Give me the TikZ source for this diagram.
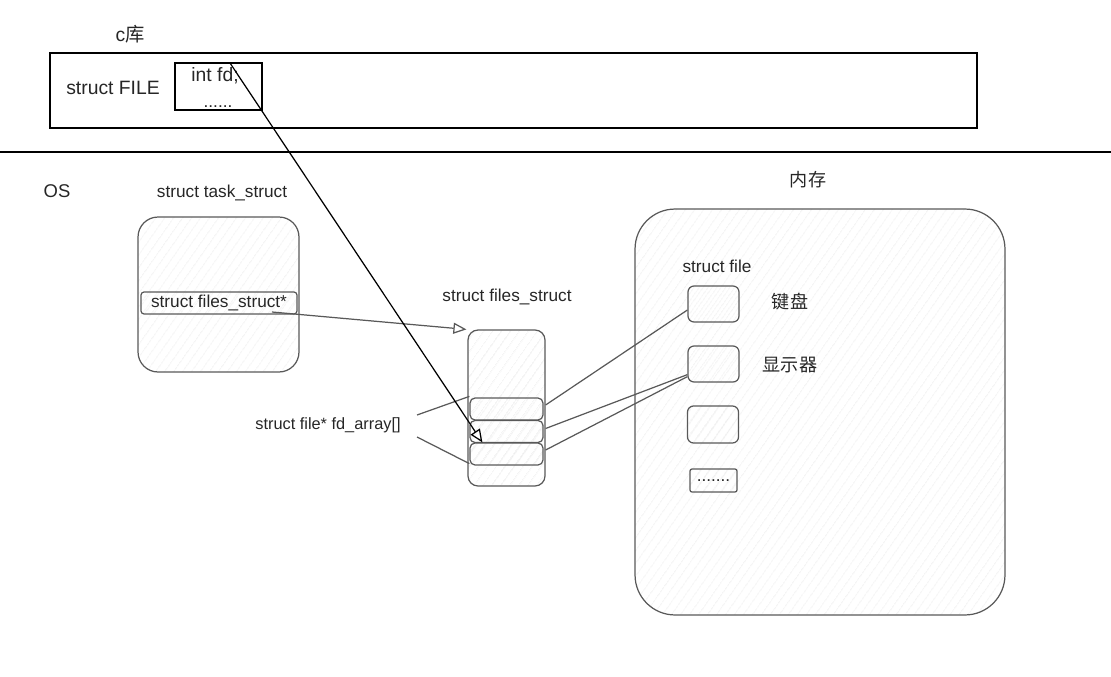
\documentclass[tikz,border=0pt]{standalone}
\usepackage{fontspec}
\setmainfont{Liberation Sans}
\newfontfamily\cjk{Noto Sans CJK SC}
\usepackage{tikz}
\usetikzlibrary{arrows.meta,positioning,patterns.meta}

\begin{document}
\begin{tikzpicture}[x=0.02cm,y=-0.02cm,>={Triangle[open,length=2.6mm,width=2.2mm]},
 every node/.style={font=\fontsize{9.8}{12}\selectfont,text=black!85},
 big/.style={font=\fontsize{11}{13}\selectfont},
 hatch/.style={pattern={Lines[angle=55,distance=4pt,line width=0.3pt]},pattern color=black!12},
 shell/.style={draw=black!65,line width=0.7pt,hatch,inner sep=0pt},
 slot/.style={shell,minimum width=1.46cm,minimum height=0.44cm,rounded corners=1mm},
 filebox/.style={shell,minimum width=1.02cm,minimum height=0.72cm,rounded corners=1.2mm},
 link/.style={draw=black!65,line width=0.7pt}]
\useasboundingbox (0,0) rectangle (1111,676);

% c library part
\node[big] (clib) at (130,34) {c{\cjk 库}};
\node[draw=black,line width=0.8pt,minimum width=18.54cm,minimum height=1.5cm] (FILE) at (513.5,90.5) {};
\node[big] (FILEname) at (113,88) {struct FILE};
\node[draw=black,line width=0.8pt,minimum width=1.74cm,minimum height=0.94cm] (fdbox) at (218.5,86.5) {};
\node[big] (fd) at (215,76) {int fd;};
\node (fddots) at (218,107) {......};
\coordinate (fdstart) at (230,63);

% user / kernel border
\coordinate (sepL) at (0,152);
\coordinate (sepR) at (1111,152);
\draw[line width=0.6pt] (sepL) -- (sepR);
\node (os) at (57,191) {\fontsize{10.5}{12}\selectfont OS};

% task_struct
\node (tasklbl) at (222,193) {struct task\_struct};
\node[shell,minimum width=3.22cm,minimum height=3.1cm,rounded corners=4mm] (task) at (218.5,294.5) {};
\node[shell,minimum width=3.12cm,minimum height=0.44cm,rounded corners=0.6mm] (ptr) at (219,303) {struct files\_struct*};
\coordinate (ptrend) at (272,312);

% files_struct
\node (fileslbl) at (507,297) {struct files\_struct};
\node[shell,minimum width=1.54cm,minimum height=3.12cm,rounded corners=2mm] (files) at (506.5,408) {};
\node[slot] (slot1) at (506.5,409) {};
\node[slot] (slot2) at (506.5,431.5) {};
\node[slot] (slot3) at (506.5,454) {};
\node (fdarray) at (328,425) {\fontsize{9.3}{12}\selectfont struct file* fd\_array[]};
\coordinate (brTop) at (417,415);
\coordinate (brBot) at (417,437);
\draw[link] (brTop) -- ([yshift=0.02cm]slot1.north west);
\draw[link] (brBot) -- ([yshift=0.04cm]slot3.south west);

% memory
\node (memlbl) at (808,180) {\fontsize{10.3}{12}\selectfont\cjk 内存};
\node[shell,minimum width=7.4cm,minimum height=8.12cm,rounded corners=8mm] (mem) at (820,412) {};
\node (filelbl) at (717,266) {struct file};
\node[filebox] (f1) at (713.5,304) {};
\node[filebox] (f2) at (713.5,364) {};
\node[filebox,minimum height=0.74cm] (f3) at (713,424.5) {};
\node[shell,minimum width=0.94cm,minimum height=0.46cm,rounded corners=0.4mm] (f4) at (713.5,480.5) {.......};
\node (kbd) at (790,302) {\fontsize{10.3}{12}\selectfont\cjk 键盘};
\node (disp) at (790,365) {\fontsize{10.3}{12}\selectfont\cjk 显示器};

% connectors
\draw[link,->] (ptrend) -- ([xshift=-0.02cm]files.north west);
\draw[link] ([xshift=0.04cm,yshift=0.08cm]slot1.east) -- ([yshift=-0.12cm]f1.west);
\draw[link] ([xshift=0.04cm,yshift=0.06cm]slot2.east) -- ([yshift=0.16cm]f2.south west);
\draw[link] ([xshift=0.04cm,yshift=0.08cm]slot3.east) -- ([yshift=0.12cm]f2.south west);
\draw[->,line width=0.7pt,black] (fdstart) -- ([xshift=0.26cm]slot3.north west);
\end{tikzpicture}
\end{document}
